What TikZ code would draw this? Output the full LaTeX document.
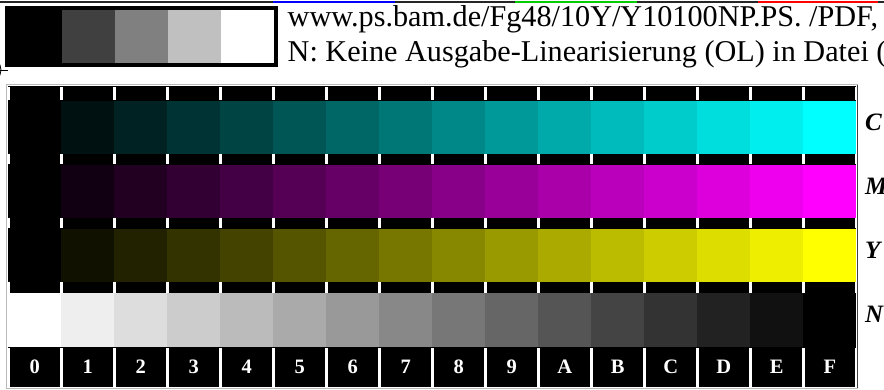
\documentclass[tikz,border=0pt]{standalone}
\usepackage{fontspec}
\setmainfont{Liberation Serif}
\begin{document}
\begin{tikzpicture}[x=1pt,y=-1pt,
  hdr/.style={anchor=base west,inner sep=0pt,font=\fontsize{30.2}{34}\selectfont},
  rowlab/.style={anchor=base west,inner sep=0pt,font=\fontsize{25}{28}\selectfont\bfseries\itshape},
  collab/.style={anchor=base,inner sep=0pt,text=white,font=\fontsize{20.5}{22}\selectfont\bfseries}]
\useasboundingbox (0,0) rectangle (884,390);
\fill[white] (0,0) rectangle (884,390);
% top coloured rule
\draw[line width=1.8,black!85] (0,1.8) -- (273,1.8);
\draw[line width=1.8,blue] (273,1.8) -- (395,1.8);
\draw[line width=1.8,black!85] (395,1.8) -- (515,1.8);
\draw[line width=1.8,green!80!black] (515,1.8) -- (637,1.8);
\draw[line width=1.8,black!85] (637,1.8) -- (758,1.8);
\draw[line width=1.8,red] (758,1.8) -- (878,1.8);
\draw[line width=1.8,black!85] (878,1.8) -- (884,1.8);
% grey scale box
\fill[black] (5,6) rectangle (278,67);
\definecolor{gA}{RGB}{64,64,64}
\definecolor{gB}{RGB}{128,128,128}
\definecolor{gC}{RGB}{192,192,192}
\fill[gA] (62,10) rectangle (115,63);
\fill[gB] (115,10) rectangle (168,63);
\fill[gC] (168,10) rectangle (221,63);
\fill[white] (221,10) rectangle (274,63);
% registration mark
\draw[line width=0.8] (-12,70) circle (13);
\draw[line width=0.8] (-20,70.5) -- (8,70.5);
% header text
\node[hdr] (t1) at (287.5,26.5) {www.ps.bam.de/Fg48/10Y/Y10100NP.PS. /PDF,};
\node[hdr] (t2) at (287.5,62) {N: Keine Ausgabe-Linearisierung (OL) in Datei (};
% chart frame
\draw[line width=1,gray!55] (6.8,84.8) rectangle (857.6,388);
\draw[line width=1,black!75] (857.6,84.8) -- (857.6,388);
\fill[black] (8.3,86) rectangle (856.3,387);
% patches
\fill[white] (8.3,293.5) rectangle ++(53,53.5);
\foreach \i in {1,...,15}{
  \pgfmathtruncatemacro{\v}{17*\i}
  \pgfmathtruncatemacro{\g}{255-17*\i}
  \pgfmathsetmacro{\xx}{8.3+53*\i}
  \definecolor{cC}{RGB}{0,\v,\v}
  \definecolor{cM}{RGB}{\v,0,\v}
  \definecolor{cY}{RGB}{\v,\v,0}
  \definecolor{cN}{RGB}{\g,\g,\g}
  \fill[cC] (\xx,100.7) rectangle ++(53,53.3);
  \fill[cM] (\xx,165) rectangle ++(53,53);
  \fill[cY] (\xx,229) rectangle ++(53,53);
  \fill[cN] (\xx,293.5) rectangle ++(53,53.5);
}
% white ticks
\foreach \i in {0,...,16}{
  \pgfmathsetmacro{\a}{max(8.3,8.3+53*\i-1.75)}
  \pgfmathsetmacro{\b}{min(856.3,8.3+53*\i+1.75)}
  \fill[white] (\a,86.7) rectangle (\b,100);
  \fill[white] (\a,154.5) rectangle (\b,164.5);
  \fill[white] (\a,218.5) rectangle (\b,228.5);
  \fill[white] (\a,282.5) rectangle (\b,293);
  \fill[white] (\a,347.5) rectangle (\b,387);
}
% column labels
\foreach \lab [count=\k from 0] in {0,1,2,3,4,5,6,7,8,9,A,B,C,D,E,F}{
  \node[collab] (c\k) at ({8.3+53*\k+26.5},373.5) {\lab};
}
% row labels
\node[rowlab] (lC) at (865,131) {C};
\node[rowlab] (lM) at (865,195) {M};
\node[rowlab] (lY) at (865,259) {Y};
\node[rowlab] (lN) at (865,323) {N};
\end{tikzpicture}
\end{document}
